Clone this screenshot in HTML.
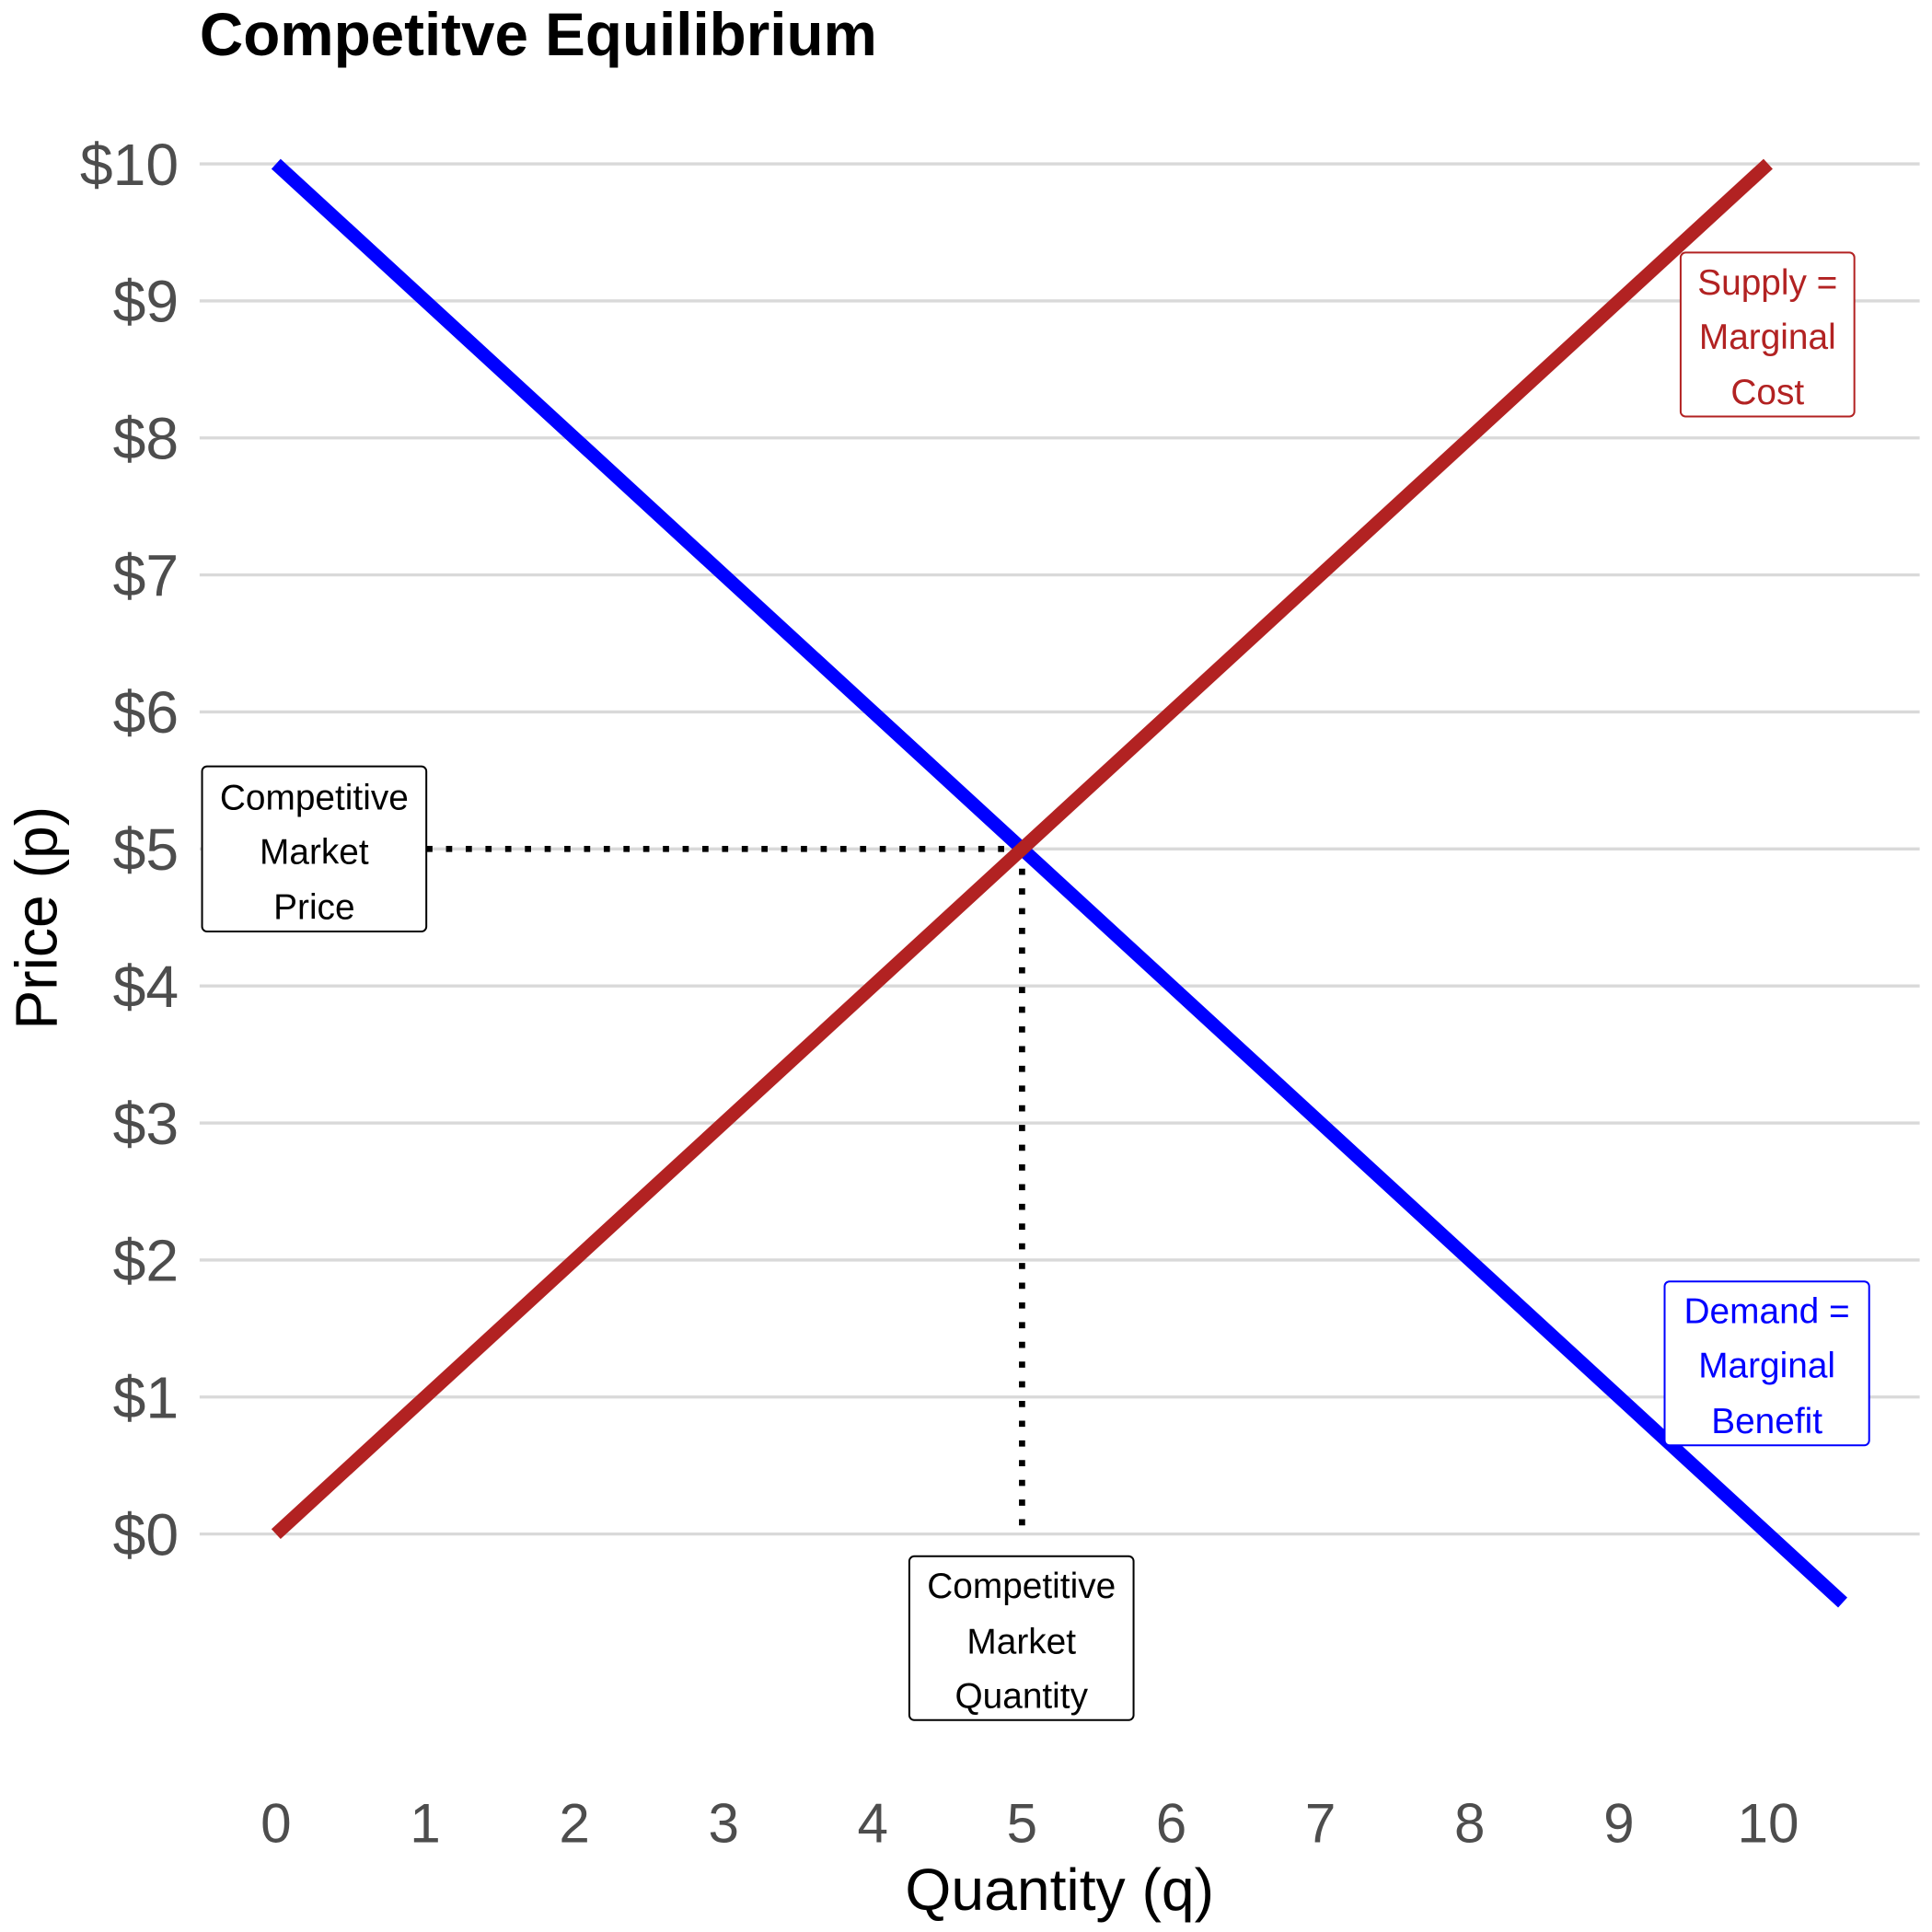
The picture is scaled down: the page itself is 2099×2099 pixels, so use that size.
<!DOCTYPE html>
<html><head><meta charset="utf-8"><style>
html,body{margin:0;padding:0;background:#fff;}
svg{display:block;font-family:"Liberation Sans",Arial,sans-serif;}
</style></head><body>
<svg id="chart" width="2099" height="2099" viewBox="0 0 1568 1568" xmlns="http://www.w3.org/2000/svg">
<text x="162" y="45" font-size="49" font-weight="bold" fill="#000">Competitve Equilibrium</text>
<g id="grid"></g>
<g id="yticks"></g>
<g id="xticks"></g>
<g id="guides"></g>
<g id="series"></g>
<text x="860" y="1550" font-size="48" text-anchor="middle" fill="#000">Quantity (q)</text>
<text transform="translate(46,745) rotate(-90)" font-size="48" text-anchor="middle" fill="#000">Price (p)</text>
<g id="labels"></g>
</svg>
<script>
const xTicks=[0,1,2,3,4,5,6,7,8,9,10];
const yTicks=[0,1,2,3,4,5,6,7,8,9,10];
const yTickLabels=["$0","$1","$2","$3","$4","$5","$6","$7","$8","$9","$10"];
const demandQ=[0,10.5];
const demandP=[10,-0.5];
const supplyQ=[0,10];
const supplyP=[0,10];
const eqQ=5, eqP=5;
const NS="http://www.w3.org/2000/svg";
function sx(v){return 224+v*121.1;}
function sy(v){return 1245-v*111.2;}
function mk(tag,attrs,parent,txt){const e=document.createElementNS(NS,tag);for(const k in attrs)e.setAttribute(k,attrs[k]);if(txt!==undefined)e.textContent=txt;parent.appendChild(e);return e;}
const grid=document.getElementById('grid'),yt=document.getElementById('yticks'),xt=document.getElementById('xticks');
yTicks.forEach((v,i)=>{
 const l=mk('line',{x1:162,x2:1558,y1:sy(v),y2:sy(v),stroke:'#d9d9d9','stroke-width':2.5},grid);
 
 
 const t=mk('text',{x:145,y:sy(v)+17,'font-size':48,'text-anchor':'end',fill:'#4d4d4d'},yt,yTickLabels[i]);
 
 
});
xTicks.forEach(v=>{
 const t=mk('text',{x:sx(v),y:1495,'font-size':45,'text-anchor':'middle',fill:'#4d4d4d'},xt,String(v));
 
 
});
const g=document.getElementById('guides');
const h=mk('line',{x1:346,x2:sx(eqQ),y1:sy(eqP),y2:sy(eqP),stroke:'#000','stroke-width':5,'stroke-dasharray':'5 11'},g);


const vl=mk('line',{x1:sx(eqQ),x2:sx(eqQ),y1:sy(eqP),y2:sy(0),stroke:'#000','stroke-width':5,'stroke-dasharray':'5 11'},g);


const s=document.getElementById('series');
const d=mk('line',{x1:sx(demandQ[0]),y1:sy(demandP[0]),x2:sx(demandQ[1]),y2:sy(demandP[1]),stroke:'#0000ff','stroke-width':11},s);


const su=mk('line',{x1:sx(supplyQ[0]),y1:sy(supplyP[0]),x2:sx(supplyQ[1]),y2:sy(supplyP[1]),stroke:'#b22222','stroke-width':11},s);


const lab=document.getElementById('labels');
function box(name,x,y,w,hh,color,lines,ly){
 const gg=mk('g',{},lab);
 
 
 mk('rect',{x:x,y:y,width:w,height:hh,rx:4,fill:'#fff',stroke:color,'stroke-width':1.5},gg);
 lines.forEach((t,i)=>mk('text',{x:x+w/2,y:ly[i]+10,'font-size':29,'text-anchor':'middle',fill:color},gg,t));
}
box('price-label',164,622,182,134,'#000',['Competitive','Market','Price'],[647,691,736]);
box('quantity-label',738,1263,182,133,'#000',['Competitive','Market','Quantity'],[1287,1332,1376]);
box('supply-label',1364,205,141,133,'#b22222',['Supply =','Marginal','Cost'],[229,273,318]);
box('demand-label',1351,1040,166,133,'#0000ff',['Demand =','Marginal','Benefit'],[1064,1108,1153]);
</script>
</body></html>
